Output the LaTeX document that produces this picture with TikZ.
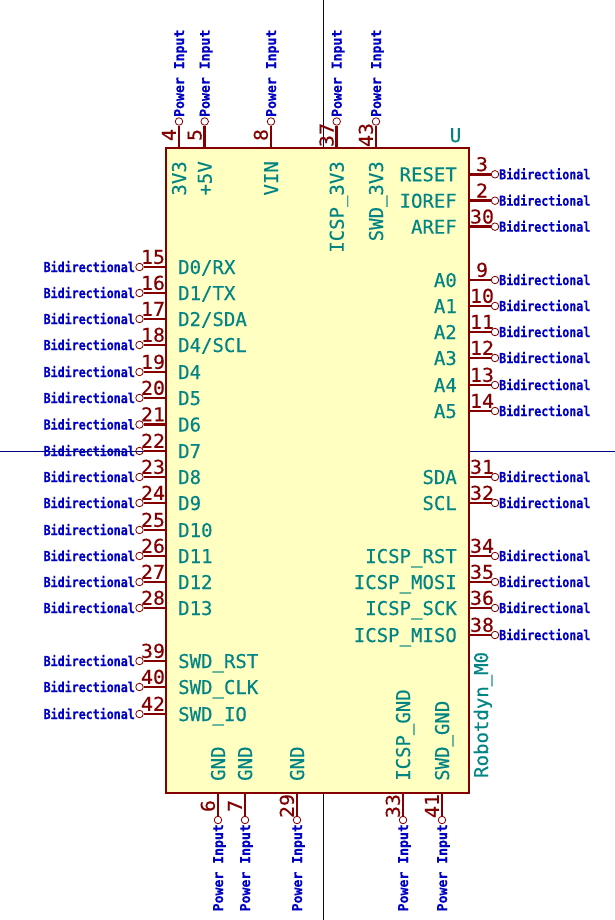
\documentclass[tikz,border=0pt]{standalone}
\usepackage{fontspec}
\newfontfamily\pinfont[FakeBold=0.3]{DejaVu Sans Mono}
\newfontfamily\numfont[FakeStretch=1.05,FakeBold=0.3]{DejaVu Sans Mono}
\newfontfamily\lblfont[FakeStretch=0.85,FakeBold=0.2]{DejaVu Sans Mono Bold}
\newfontfamily\powfont[FakeStretch=0.96,FakeBold=0.2]{DejaVu Sans Mono Bold}
\definecolor{kred}{HTML}{840000}
\definecolor{kfill}{HTML}{FFFFC2}
\definecolor{kteal}{HTML}{008484}
\definecolor{kblue}{HTML}{0000C2}
\definecolor{kcross}{HTML}{000084}
\tikzset{
  x=1pt,y=-1pt,
  pinline/.style={draw=kred,line width=2.5pt},
  endmark/.style={circle,draw=kred,line width=0.8pt,minimum size=7.5pt,inner sep=0pt},
  pinname/.style={text=kteal,inner sep=0pt,text height=14pt,text depth=0pt,font=\pinfont\fontsize{19}{21}\selectfont},
  pinnum/.style={text=kred,inner sep=0pt,text height=14pt,text depth=0pt,font=\numfont\fontsize{19}{21}\selectfont},
  typelab/.style={text=kblue,inner sep=0pt,text height=10pt,text depth=0pt,font=\lblfont\fontsize{13.7}{15}\selectfont},
  powerlab/.style={typelab,font=\powfont\fontsize{13.7}{15}\selectfont},
  crossline/.style={draw=kcross,line width=0.8pt},
  bodybox/.style={draw=kred,fill=kfill,line width=2.5pt,inner sep=0pt,minimum width=303pt,minimum height=645pt}
}
\begin{document}
\begin{tikzpicture}
\useasboundingbox (0,0) rectangle (615,920);
\fill[white] (0,0) rectangle (615,920);
% crosshair
\coordinate (ct) at (323.3,0);
\coordinate (cb) at (323.3,920);
\coordinate (cl) at (0,451.7);
\coordinate (cr) at (615,451.7);
\draw[crossline] (ct) -- (cb);
\draw[crossline] (cl) -- (cr);
% body
\node[bodybox] (body) at (317.5,470.5) {};
% left pins
\foreach \n/\y/\t in {15/267/D0\slash RX,16/293/D1\slash TX,17/319/D2\slash SDA,18/345/D4\slash SCL,19/372/D4,20/398/D5,21/424.5/D6,22/451/D7,23/477/D8,24/503/D9,25/530/D10,26/556/D11,27/582/D12,28/608/D13,39/661/SWD\_RST,40/687/SWD\_CLK,42/714/SWD\_IO}{
  \coordinate (a\n) at (166,\y);
  \node[endmark] (e\n) at (139.5,\y) {};
  \draw[pinline] (a\n) -- (e\n);
  \node[pinnum,anchor=south] (num\n) at (153,\y-3) {\n};
  \node[pinname,anchor=west] (nm\n) at (178,\y) {\t};
  \node[typelab,anchor=east] (ty\n) at (135,\y) {Bidirectional};
}
% right pins
\foreach \n/\y/\t in {3/174.3/RESET,2/200.7/IOREF,30/226.7/AREF,9/280/A0,10/306/A1,11/332/A2,12/358/A3,13/385/A4,14/411/A5,31/477/SDA,32/503/SCL,34/556/ICSP\_RST,35/582/ICSP\_MOSI,36/608/ICSP\_SCK,38/635/ICSP\_MISO}{
  \coordinate (a\n) at (469,\y);
  \node[endmark] (e\n) at (495,\y) {};
  \draw[pinline] (a\n) -- (e\n);
  \node[pinnum,anchor=south] (num\n) at (482,\y-3) {\n};
  \node[pinname,anchor=east] (nm\n) at (457,\y) {\t};
  \node[typelab,anchor=west] (ty\n) at (499,\y) {Bidirectional};
}
% top pins
\foreach \n/\x/\t in {4/179/3V3,5/204.7/+5V,8/271/VIN,37/336.7/ICSP\_3V3,43/376/SWD\_3V3}{
  \coordinate (a\n) at (\x,148);
  \node[endmark] (e\n) at (\x,121.5) {};
  \draw[pinline] (a\n) -- (e\n);
  \node[pinnum,anchor=south,rotate=90] (num\n) at (\x-3,135) {\n};
  \node[pinname,anchor=east,rotate=90] (nm\n) at (\x,161) {\t};
  \node[powerlab,anchor=west,rotate=90] (ty\n) at (\x,117) {Power Input};
}
% bottom pins
\foreach \n/\x/\t in {6/218/GND,7/245/GND,29/297/GND,33/403/ICSP\_GND,41/442/SWD\_GND}{
  \coordinate (a\n) at (\x,793);
  \node[endmark] (e\n) at (\x,820) {};
  \draw[pinline] (a\n) -- (e\n);
  \node[pinnum,anchor=south,rotate=90] (num\n) at (\x-3,806) {\n};
  \node[pinname,anchor=west,rotate=90] (nm\n) at (\x,781) {\t};
  \node[powerlab,anchor=east,rotate=90] (ty\n) at (\x,824) {Power Input};
}
% fields
\node[pinname,anchor=center] (ref) at (455.5,135) {U};
\node[pinname,anchor=west,rotate=90] (val) at (481,778) {Robotdyn\_M0};
\end{tikzpicture}
\end{document}
